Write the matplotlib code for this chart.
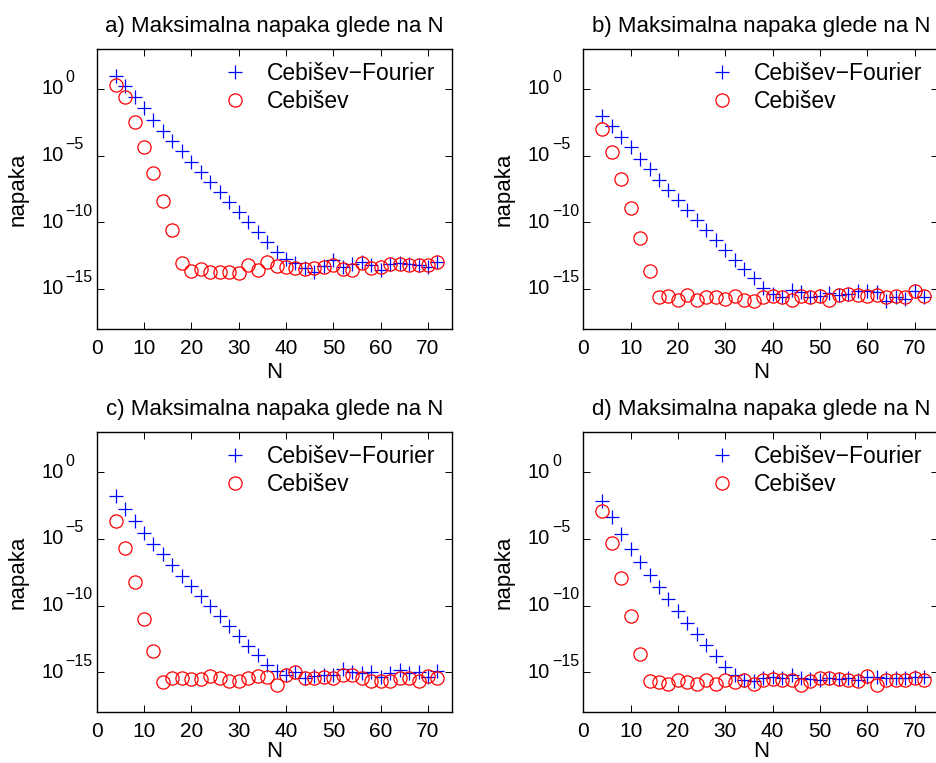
import matplotlib.pyplot as plt
import numpy as np
from matplotlib.ticker import NullLocator
from matplotlib.transforms import offset_copy

plt.rcParams['font.family'] = ['Liberation Sans', 'DejaVu Sans']

N = np.arange(4, 74, 2)

# log10 of max error, panels a-d
a_cf = [1.0, 0.25, -0.63, -1.45, -2.3, -3.13, -3.93, -4.68, -5.5, -6.25, -7.0, -7.75,
        -8.5, -9.25, -10.0, -10.75, -11.5, -12.26, -12.75, -13.08, -13.43, -13.76, -13.25, -12.83,
        -13.33, -13.13, -13.0, -13.18, -13.58, -13.13, -13.08, -13.13, -13.18, -13.33, -13.0]
a_c = [0.33, -0.63, -2.5, -4.38, -6.33, -8.43, -10.58, -13.08, -13.68, -13.5, -13.7, -13.7,
       -13.7, -13.8, -13.18, -13.58, -13.0, -13.25, -13.33, -13.45, -13.5, -13.43, -13.33, -13.18,
       -13.5, -13.58, -13.08, -13.43, -13.38, -13.13, -13.13, -13.18, -13.18, -13.18, -13.0]

b_cf = [-2.0, -2.8, -3.58, -4.38, -5.25, -6.0, -6.8, -7.55, -8.3, -9.05, -9.8, -10.55,
        -11.3, -12.05, -12.8, -13.5, -14.2, -14.9, -15.38, -15.58, -15.08, -15.26, -15.58, -15.5,
        -15.33, -15.43, -15.38, -15.18, -15.18, -15.26, -15.93, -15.58, -15.75, -15.18, -15.63]
b_c = [-3.0, -4.75, -6.75, -8.93, -11.2, -13.63, -15.6, -15.5, -15.83, -15.43, -15.83, -15.58,
       -15.58, -15.75, -15.5, -15.83, -15.93, -15.63, -15.5, -15.58, -15.83, -15.5, -15.63, -15.5,
       -15.83, -15.43, -15.38, -15.43, -15.5, -15.43, -15.63, -15.5, -15.63, -15.18, -15.5]

c_cf = [-1.75, -2.75, -3.65, -4.58, -5.4, -6.15, -6.95, -7.75, -8.53, -9.25, -10.0, -10.75,
        -11.5, -12.25, -13.0, -13.72, -14.42, -14.92, -15.2, -14.96, -15.45, -15.28, -15.2, -15.2,
        -14.75, -14.96, -15.08, -15.0, -15.33, -15.08, -14.83, -15.08, -15.0, -15.33, -14.9]
c_c = [-3.63, -5.7, -8.25, -11.0, -13.43, -15.75, -15.4, -15.4, -15.5, -15.5, -15.25, -15.4,
       -15.65, -15.65, -15.45, -15.25, -15.33, -15.96, -15.2, -14.96, -15.45, -15.45, -15.33, -15.4,
       -15.2, -15.2, -15.45, -15.65, -15.65, -15.65, -15.45, -15.45, -15.65, -15.25, -15.45]

d_cf = [-2.13, -3.38, -4.63, -5.75, -6.75, -7.7, -8.63, -9.53, -10.38, -11.28, -12.13, -12.95,
        -13.75, -14.62, -15.23, -15.58, -15.66, -15.45, -15.33, -15.4, -15.2, -15.4, -15.5, -15.58,
        -15.4, -15.5, -15.45, -15.58, -15.33, -15.33, -15.45, -15.45, -15.45, -15.33, -15.33]
d_c = [-2.88, -5.28, -7.95, -10.75, -13.63, -15.66, -15.7, -15.9, -15.58, -15.7, -15.9, -15.58,
       -15.9, -15.58, -15.7, -15.58, -15.9, -15.58, -15.5, -15.58, -15.58, -15.96, -15.66, -15.4,
       -15.45, -15.5, -15.58, -15.66, -15.26, -15.96, -15.58, -15.58, -15.58, -15.4, -15.58]

panels = [('a', a_cf, a_c), ('b', b_cf, b_c), ('c', c_cf, c_c), ('d', d_cf, d_c)]
y_exps = [0, -5, -10, -15]

fig = plt.figure(figsize=(9.37, 7.63), dpi=100)
W, H = 937, 763
# pixel boxes: left, top, width, height
boxes = [(96.7, 49, 355, 280), (583.3, 49, 355, 280),
         (96.7, 432.3, 355, 280), (583.3, 432.3, 355, 280)]

for i, ((tag, cf, c), (x0, y0, w, h)) in enumerate(zip(panels, boxes)):
    ax = fig.add_axes([x0 / W, 1 - (y0 + h) / H, w / W, h / H])
    ax.semilogy(N, 10.0 ** np.array(cf), '+', color='blue', ms=10, mew=0.9,
                label='Cebi\u0161ev\u2212Fourier')
    ax.semilogy(N, 10.0 ** np.array(c), 'o', color='red', mfc='none', ms=9.5, mew=0.9,
                label='Cebi\u0161ev')
    ax.set_xlim(0, 75)
    ax.set_ylim(1e-18, 1e3)
    ax.set_xticks(range(0, 80, 10))
    ax.set_yticks([10.0 ** e for e in y_exps])
    ax.set_yticklabels([])
    ax.yaxis.set_minor_locator(NullLocator())
    ax.tick_params(direction='in', top=True, right=True, length=5, width=0.7,
                   labelsize=15)
    ax.tick_params(axis='x', pad=7)

    # matlab-style "10" with a large superscript exponent
    base_tr = ax.get_yaxis_transform()
    sup_tr = offset_copy(base_tr, fig=fig, x=0, y=8, units='points')
    for e in y_exps:
        ax.text(-0.094, 10.0 ** e, '10', transform=base_tr, ha='right', va='center',
                fontsize=14.5)
        ax.text(-0.088, 10.0 ** e, str(e).replace('-', '\u2212'), transform=sup_tr,
                ha='left', va='center', fontsize=11.5)

    for s in ax.spines.values():
        s.set_linewidth(1.0)
    ax.set_title(tag + ') Maksimalna napaka glede na N', fontsize=16, pad=12.5)
    ax.set_xlabel('N', fontsize=16, labelpad=3 if i < 2 else 0)
    ax.set_ylabel('napaka', fontsize=16)
    ax.yaxis.set_label_coords(-0.193, 0.5)
    ax.legend(loc='upper right', frameon=False, fontsize=16.5, handlelength=1.0,
              handletextpad=0.9, labelspacing=0.22, borderaxespad=0.15,
              bbox_to_anchor=(0.99, 1.0))

fig.savefig('out.png', dpi=100)
